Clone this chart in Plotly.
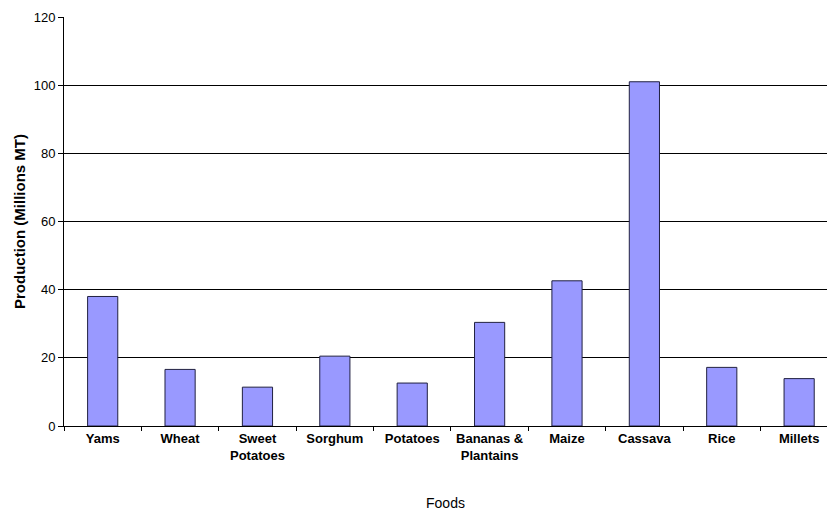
import plotly.graph_objects as go

foods = ["Yams", "Wheat", "Sweet<br>Potatoes", "Sorghum", "Potatoes",
         "Bananas &<br>Plantains", "Maize", "Cassava", "Rice", "Millets"]
production = [38.0, 16.6, 11.4, 20.5, 12.6, 30.4, 42.6, 101.0, 17.2, 13.9]
y_ticks = [0, 20, 40, 60, 80, 100, 120]
grid_vals = [20, 40, 60, 80, 100]

fig = go.Figure()
fig.add_trace(go.Scatter(x=[foods[0]], y=[0], yaxis="y2", mode="markers",
                         marker=dict(opacity=0), showlegend=False, hoverinfo="skip"))
fig.add_trace(go.Bar(
    x=foods, y=production, width=0.39,
    marker=dict(color="#9999FF", line=dict(color="#202040", width=1)),
    showlegend=False,
))

fig.update_layout(
    width=827, height=512,
    margin=dict(l=64, r=0, t=17, b=86),
    plot_bgcolor="white", paper_bgcolor="white",
    font=dict(family="Liberation Sans, Arial", color="black"),
    xaxis=dict(
        range=[-0.5, 9.36], showline=True, linecolor="black", linewidth=1,
        ticks="outside", tickson="boundaries", ticklen=4, tickcolor="black",
        tickfont=dict(size=13, family="Liberation Sans, Arial", weight="bold"),
        title=dict(text="Foods", font=dict(size=14), standoff=36),
        showgrid=False,
    ),
    yaxis=dict(
        range=[0, 120], tickvals=y_ticks, showline=True, linecolor="black",
        linewidth=1, ticks="outside", ticklen=5, tickcolor="black",
        tickfont=dict(size=13), showgrid=False, zeroline=False,
        title=dict(text="<b>Production (Millions MT)</b>", font=dict(size=15), standoff=4),
    ),
    yaxis2=dict(
        range=[0, 120], tickvals=grid_vals, overlaying="y", side="left",
        showticklabels=False, showgrid=True, gridcolor="black", gridwidth=1,
        showline=False, zeroline=False,
    ),
    bargap=0.6,
)
fig.write_html("out.html")
